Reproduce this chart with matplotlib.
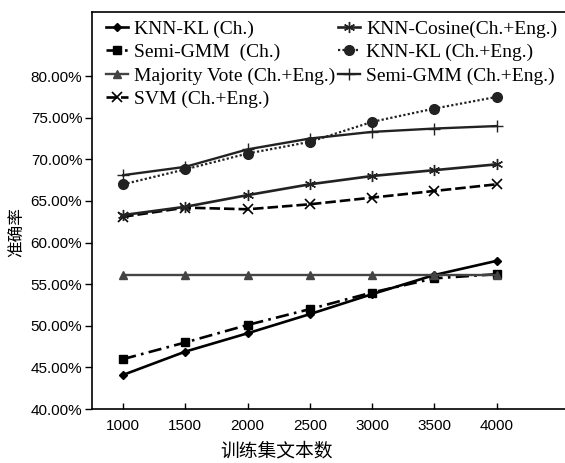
import matplotlib
matplotlib.use('Agg')
import matplotlib.pyplot as plt
from matplotlib.ticker import FuncFormatter

# training set sizes
sizes = [1000, 1500, 2000, 2500, 3000, 3500, 4000]

# accuracy (%)
knn_kl_ch = [44.1, 46.9, 49.1, 51.4, 53.8, 56.1, 57.8]
semi_gmm_ch = [46.0, 48.0, 50.1, 52.0, 54.0, 55.7, 56.2]
majority_vote = [56.1, 56.1, 56.1, 56.1, 56.1, 56.1, 56.1]
svm = [63.1, 64.2, 64.0, 64.6, 65.4, 66.2, 67.0]
knn_cosine = [63.3, 64.3, 65.7, 67.0, 68.0, 68.7, 69.4]
knn_kl_both = [67.0, 68.8, 70.7, 72.1, 74.5, 76.1, 77.5]
semi_gmm_both = [68.1, 69.1, 71.2, 72.5, 73.3, 73.7, 74.0]

y_ticks = [40, 45, 50, 55, 60, 65, 70, 75, 80]

plt.rcParams.update({
    'font.family': ['Liberation Sans', 'DejaVu Sans'],
    'font.size': 11,
    'axes.linewidth': 1.2,
})

fig = plt.figure(figsize=(5.65, 4.63), dpi=100, facecolor='white')
ax = fig.add_axes([0.1628, 0.1166, 0.8372, 0.8574])

ax.plot(sizes, knn_kl_ch, color='black', lw=1.9, marker='D', ms=4,
        label='KNN-KL (Ch.)')
ax.plot(sizes, semi_gmm_ch, color='black', lw=1.9, ls=(0, (5, 2, 1, 2)),
        marker='s', ms=6, label='Semi-GMM  (Ch.)')
ax.plot(sizes, majority_vote, color='#444444', lw=1.7, marker='^', ms=6,
        label='Majority Vote (Ch.+Eng.)')
ax.plot(sizes, svm, color='black', lw=1.9, ls=(0, (4, 1.5)), marker='x',
        ms=7, mew=1.2, label='SVM (Ch.+Eng.)')
ax.plot(sizes, knn_cosine, color='#222222', lw=1.9, marker=(6, 2, 0),
        ms=8, mew=1.0, label='KNN-Cosine(Ch.+Eng.)')
ax.plot(sizes, knn_kl_both, color='#222222', lw=1.6, ls=(0, (1, 1)),
        marker='o', ms=7, label='KNN-KL (Ch.+Eng.)')
ax.plot(sizes, semi_gmm_both, color='#222222', lw=1.7, marker='+', ms=8,
        mew=1.0, label='Semi-GMM (Ch.+Eng.)')

ax.set_xlim(750, 4550)
ax.set_ylim(40, 87.7)
ax.set_xticks(sizes)
ax.set_yticks(y_ticks)
ax.yaxis.set_major_formatter(FuncFormatter(lambda v, p: f'{v:.2f}%'))
ax.tick_params(axis='x', direction='in', length=4, width=1.0, pad=7,
               labelsize=11)
ax.tick_params(axis='y', direction='out', length=5, width=1.0, pad=2,
               labelsize=11, right=True)
ax.spines['right'].set_visible(False)

ax.set_xlabel('训练集文本数', family=['Noto Sans CJK SC', 'DejaVu Sans'],
              fontsize=13.5)
ax.xaxis.set_label_coords(0.39, -0.08)
ax.set_ylabel('准确率', family=['Noto Sans CJK SC', 'DejaVu Sans'],
              fontsize=12)
ax.yaxis.set_label_coords(-0.14, 0.446)

ax.legend(loc='upper left', bbox_to_anchor=(0.025, 0.985), ncol=2,
          frameon=False, prop={'family': 'Liberation Serif', 'size': 14},
          handlelength=1.15, handletextpad=0.3, columnspacing=0.15,
          labelspacing=0.3, borderpad=0.1, borderaxespad=0)

fig.savefig('out.png', dpi=100, facecolor='white')
